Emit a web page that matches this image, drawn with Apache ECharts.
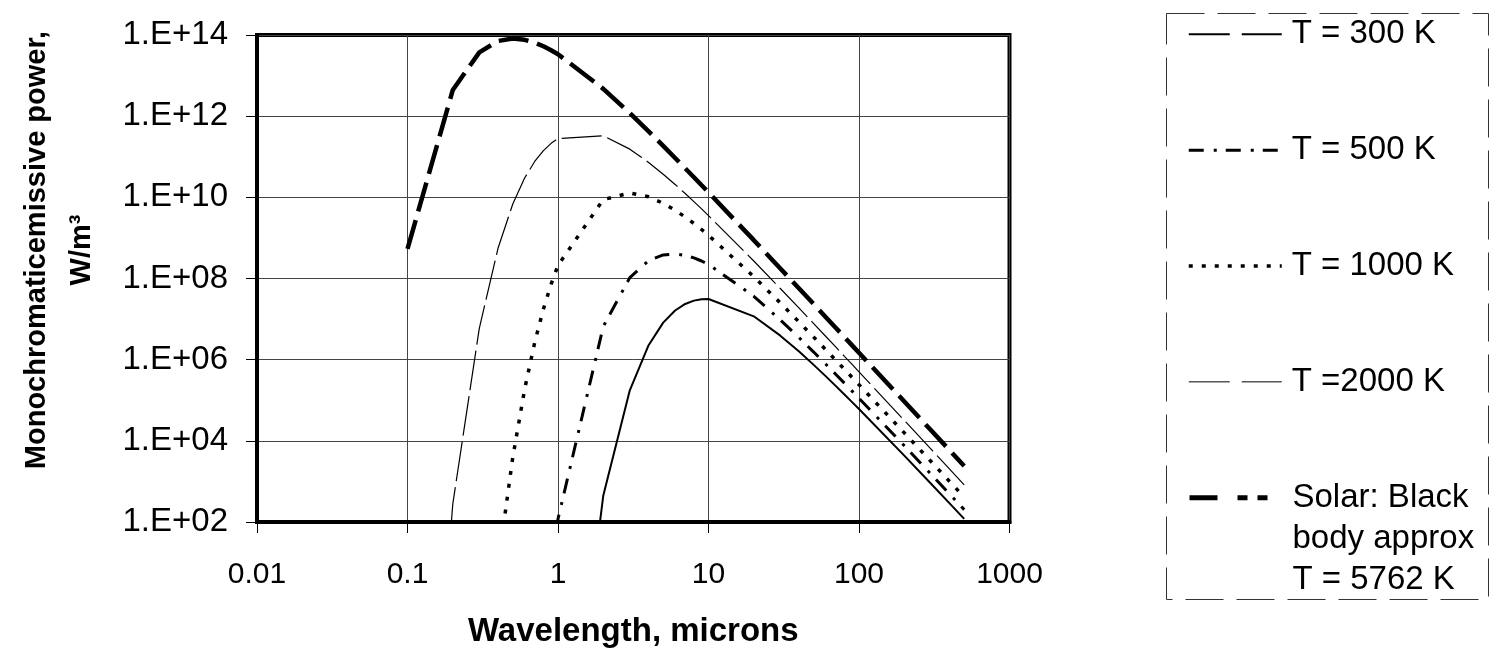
<!DOCTYPE html>
<html>
<head>
<meta charset="utf-8">
<script src="https://cdn.jsdelivr.net/npm/echarts@6/dist/echarts.min.js"></script>
<style>
html,body{margin:0;padding:0;background:#ffffff;}
#chart{width:1492px;height:653px;}
</style>
</head>
<body>
<div id="chart"></div>
<script>
// Wavelength in microns (x values)
const wavelengths = [0.1,0.2,0.3,0.4,0.5,0.6,0.7,0.8,0.9,1,2,3,4,5,6,7,8,9,10,20,30,40,50,60,70,80,90,100,200,300,400,500];

// Monochromatic emissive power, W/m^3 (null = no point)
const t300 = [null,null,null,null,null,null,null,null,null,5.5e-7,4.50e2,1.76e5,2.27e6,8.18e6,1.63e7,2.36e7,2.85e7,3.09e7,3.12e7,1.17e7,3.90e6,1.58e6,7.44e5,3.93e5,2.26e5,1.39e5,9.00e4,6.08e4,4.32e3,8.88e2,2.87e2,1.19e2];
const t500 = [null,null,null,null,null,null,null,null,8.2,1.19e2,6.60e6,1.05e8,2.75e8,3.80e8,4.01e8,3.71e8,3.22e8,2.70e8,2.23e8,3.64e7,9.57e6,3.47e6,1.54e6,7.82e5,4.38e5,2.64e5,1.68e5,1.12e5,7.56e3,1.53e3,4.90e2,2.02e2];
const t1000 = [null,null,null,8.7,3.81e3,1.85e5,2.64e6,1.77e7,7.23e7,2.11e8,8.79e9,1.28e10,1.03e10,7.14e9,4.81e9,3.27e9,2.27e9,1.61e9,1.16e9,1.11e8,2.50e7,8.44e6,3.59e6,1.78e6,9.76e5,5.80e5,3.66e5,2.42e5,1.57e4,3.13e3,9.98e2,4.10e2];
const t2000 = [2.1e-12,2.80e2,5.93e6,5.65e8,6.76e9,2.99e10,7.66e10,1.42e11,2.14e11,2.81e11,3.30e11,1.54e11,7.25e10,3.72e10,2.08e10,1.24e10,7.83e9,5.18e9,3.55e9,2.70e8,5.68e7,1.86e7,7.74e6,3.78e6,2.06e6,1.21e6,7.62e5,5.02e5,3.19e4,6.34e3,2.01e3,8.26e2];
const solar = [5.35e8,4.43e12,3.74e13,7.12e13,8.17e13,7.62e13,6.47e13,5.27e13,4.22e13,3.36e13,4.71e12,1.19e12,4.22e11,1.85e11,9.32e10,5.19e10,3.12e10,1.98e10,1.32e10,8.80e8,1.77e8,5.67e7,2.34e7,1.13e7,6.13e6,3.60e6,2.25e6,1.48e6,9.31e4,1.84e4,5.84e3,2.39e3];

const seriesNames = ['T = 300 K','T = 500 K','T = 1000 K','T =2000 K','Solar: Black\nbody approx\nT = 5762 K'];
const xTickLabels = ['0.01','0.1','1','10','100','1000'];
const yTickLabels = ['1.E+02','1.E+04','1.E+06','1.E+08','1.E+10','1.E+12','1.E+14'];
const xTitle = 'Wavelength, microns';
const yTitle = 'Monochromaticemissive power,\nW/m\u00B3';

const FONT = '"Liberation Sans", Arial, sans-serif';

function pairs(vals){
  const out = [];
  for (let i = 0; i < wavelengths.length; i++) {
    if (vals[i] != null) out.push([wavelengths[i], vals[i]]);
  }
  return out;
}

const plotStyles = [
  {width:2, type:'solid'},
  {width:3, type:[15,10,3,9]},
  {width:3.5, type:[4,9]},
  {width:1.2, type:[40,6]},
  {width:4.5, type:[30,9]}
];
const legendStyles = [
  {width:2, type:[41,12]},
  {width:3, type:[15,10,3,9]},
  {width:3.5, type:[4,9]},
  {width:1, type:[41,12]},
  {width:5, type:[28,20,10,10,10,40]}
];
const allValues = [t300, t500, t1000, t2000, solar];

const chart = echarts.init(document.getElementById('chart'), null, {renderer:'canvas'});

const textBase = {color:'#000', fontFamily: FONT, fontSize:33, lineHeight:41, padding:[0,0,0,5]};

function legendItem(i){
  return {name:seriesNames[i],
    lineStyle:{color:'#000', width:legendStyles[i].width, type:legendStyles[i].type, cap:'butt'},
    itemStyle:{opacity:0, borderWidth:0}};
}

const option = {
  animation:false,
  backgroundColor:'#ffffff',
  grid:{left:257, right:482.5, top:35, bottom:131, show:true, borderColor:'#000', borderWidth:4, backgroundColor:'transparent'},
  xAxis:{
    type:'log', logBase:10, min:0.01, max:1000, splitNumber:5,
    name:xTitle, nameLocation:'middle', nameGap:93,
    nameTextStyle:{fontSize:33, fontWeight:'bold', color:'#000', fontFamily:FONT},
    axisLine:{show:true, lineStyle:{color:'#000', width:4}},
    axisTick:{show:true, length:11, lineStyle:{color:'#000', width:1}},
    axisLabel:{margin:38, fontSize:30, color:'#000', fontFamily:FONT,
      formatter:function(v){ return xTickLabels[Math.round(Math.log10(v)) + 2]; }},
    splitLine:{show:true, lineStyle:{color:'#444', width:1}},
    minorTick:{show:false}, minorSplitLine:{show:false}
  },
  yAxis:{
    type:'log', logBase:100, min:1e2, max:1e14, splitNumber:6,
    axisLine:{show:true, lineStyle:{color:'#000', width:4}},
    axisTick:{show:true, length:11, lineStyle:{color:'#000', width:1}},
    axisLabel:{margin:29, fontSize:33, color:'#000', fontFamily:FONT,
      formatter:function(v){ return yTickLabels[Math.round(Math.log10(v)/2) - 1]; }},
    splitLine:{show:true, lineStyle:{color:'#444', width:1}}
  },
  legend:[
    {
      orient:'vertical', left:1187, top:13.8, padding:0, itemGap:74.85,
      itemWidth:93, itemHeight:20, selectedMode:false,
      data:[0,1,2,3].map(legendItem),
      textStyle:textBase
    },
    {
      orient:'vertical', left:1187, top:395.2, padding:0,
      itemWidth:93, itemHeight:20, selectedMode:false,
      data:[legendItem(4)],
      formatter:function(name){ return '\n\n' + name; },
      textStyle:textBase
    }
  ],
  graphic:[
    {type:'rect', left:1164, top:11, z:-1, silent:true,
      shape:{x:0, y:0, width:322, height:586},
      style:{fill:'none', stroke:'#333', lineWidth:1, lineDash:[38,13]}},
    {type:'text', x:59, y:250, rotation:Math.PI/2, silent:true,
      style:{text:yTitle, fill:'#000', font:'bold 29px ' + FONT, lineHeight:45, align:'center', verticalAlign:'middle'}}
  ],
  series: allValues.map((vals, i) => ({
    name: seriesNames[i],
    type:'line',
    data: pairs(vals),
    symbol:'none', showSymbol:false,
    smooth:false, clip:true, silent:true,
    lineStyle:{color:'#000', width:plotStyles[i].width, type:plotStyles[i].type, cap:'butt'},
    itemStyle:{color:'#000'},
    emphasis:{disabled:true},
    z: 2 + i
  }))
};

chart.setOption(option);
</script>
</body>
</html>
